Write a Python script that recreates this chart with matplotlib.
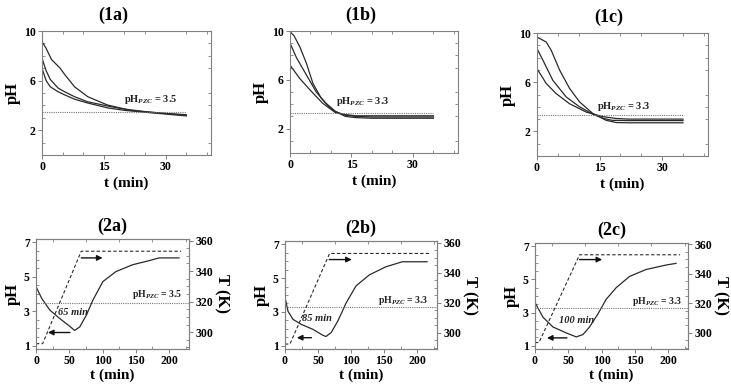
import numpy as np
import matplotlib
matplotlib.use("Agg")
import matplotlib.pyplot as plt
from matplotlib.ticker import FixedLocator, MultipleLocator

plt.rcParams['font.family'] = ['Liberation Serif', 'DejaVu Serif']
plt.rcParams['font.weight'] = 'bold'
plt.rcParams['mathtext.fontset'] = 'custom'
plt.rcParams['mathtext.rm'] = 'Liberation Serif:bold'
plt.rcParams['mathtext.it'] = 'Liberation Serif:italic:bold'
plt.rcParams['mathtext.bf'] = 'Liberation Serif:bold'

# ---- top row: pH vs time at three initial pH values ----
t_1a = [[0, 1, 2.3, 3.5, 4.4, 5.6, 7.9, 11.1, 15.9, 21.5, 26, 30, 35],
        [0, 1, 2, 3.9, 5.5, 7.9, 11, 15.9, 20, 25, 30, 35],
        [0, 1, 2, 3.9, 5.5, 7.9, 11, 15.9, 20, 25, 30, 35]]
ph_1a = [[9.15, 8.6, 7.7, 7.3, 7.0, 6.45, 5.5, 4.7, 4.03, 3.6, 3.45, 3.35, 3.25],
         [7.8, 6.8, 6.1, 5.4, 5.1, 4.7, 4.3, 3.95, 3.7, 3.5, 3.35, 3.2],
         [7.0, 6.0, 5.5, 5.1, 4.85, 4.5, 4.2, 3.8, 3.6, 3.45, 3.3, 3.15]]
pzc_1a = 3.5

t_1b = [[0, 1, 2.4, 4.0, 5.6, 7.6, 9.5, 11.1, 13.5, 16, 20, 35],
        [0, 1.6, 4.0, 6.4, 8.7, 11.1, 13.5, 16, 20, 35],
        [0, 2.4, 4.8, 7.9, 11.1, 13.5, 16, 20, 35]]
ph_1b = [[9.95, 9.6, 8.7, 7.36, 5.7, 4.5, 3.8, 3.4, 3.0, 2.9, 2.85, 2.85],
         [9.0, 7.8, 6.4, 5.0, 4.1, 3.4, 3.1, 3.0, 2.95, 2.95],
         [7.2, 6.1, 5.2, 4.1, 3.3, 3.15, 3.05, 3.05, 3.05]]
pzc_1b = 3.3

t_1c = [[0, 2.2, 3.4, 5.4, 7.8, 10.2, 13.4, 16.6, 19, 22, 35],
        [0, 1.4, 3.8, 7.0, 10.2, 13.4, 16, 18, 22, 35],
        [0, 2.2, 4.6, 7.8, 11.8, 15.8, 19, 22, 35]]
ph_1c = [[9.67, 9.27, 8.6, 7.0, 5.5, 4.4, 3.45, 2.9, 2.72, 2.7, 2.7],
         [8.73, 7.8, 6.15, 4.8, 4.0, 3.4, 3.05, 2.9, 2.88, 2.88],
         [7.1, 5.9, 5.07, 4.25, 3.57, 3.2, 3.05, 3.0, 3.0]]
pzc_1c = 3.3

# ---- bottom row: pH and temperature during heating ----
t_2a = [0, 8.5, 20.9, 35.8, 50.7, 58, 65.7, 75.6, 85.6, 100.5, 120, 145, 170, 185, 215]
ph_2a = [4.43, 3.75, 3.06, 2.57, 2.12, 1.88, 2.08, 2.76, 3.65, 4.72, 5.3, 5.7, 5.94, 6.1, 6.1]
tT_2a = [0, 10, 68, 218]
T_2a = [292.5, 292.5, 353, 353]
pzc_2a = 3.5

t_2b = [0.7, 4.5, 12, 24.5, 42, 57, 62, 70, 80, 92.5, 107.5, 127.5, 152.5, 177.5, 215]
ph_2b = [3.73, 3.04, 2.56, 2.26, 1.97, 1.62, 1.54, 1.78, 2.46, 3.53, 4.54, 5.19, 5.67, 5.97, 5.97]
tT_2b = [0, 7.5, 67.5, 218]
T_2b = [292.3, 292.3, 352.7, 352.7]
pzc_2b = 3.3

t_2c = [0, 12, 27, 47, 62, 72, 82, 94.5, 107, 122, 142, 167, 197, 212]
ph_2c = [3.6, 2.72, 2.13, 1.77, 1.53, 1.67, 2.13, 2.91, 3.8, 4.5, 5.18, 5.6, 5.87, 5.97]
tT_2c = [0, 6, 67, 218]
T_2c = [293.4, 293.4, 353, 353]
pzc_2c = 3.3

W, H = 731, 388
fig = plt.figure(figsize=(W / 100, H / 100), dpi=100)

def box(l, t, r, b):
    return [l / W, 1 - b / H, (r - l) / W, (b - t) / H]

line_c = '#2a2a2a'
spine_c = '#808080'

def style(ax):
    for s in ax.spines.values():
        s.set_color(spine_c)
        s.set_linewidth(0.8)
    ax.tick_params(which='major', direction='out', length=3, width=0.7,
                   color=spine_c, labelsize=8.5, pad=1.5)
    ax.tick_params(which='minor', direction='in', length=2, width=0.6, color=spine_c)
    ax.tick_params(which='minor', top=True, right=True)
    for lb in ax.get_xticklabels() + ax.get_yticklabels():
        lb.set_fontweight('bold')

top = [('(1a)', box(42, 31, 211, 155), t_1a, ph_1a, pzc_1a, (20, 4.3)),
       ('(1b)', box(290, 31, 458, 153), t_1b, ph_1b, pzc_1b, (11.3, 4.0)),
       ('(1c)', box(537, 33, 708, 156), t_1c, ph_1c, pzc_1c, (14.4, 3.8))]

for name, pos, ts, phs, pzc, tpos in top:
    ax = fig.add_axes(pos)
    for t, p in zip(ts, phs):
        ax.plot(t, p, color=line_c, lw=0.9)
    ax.plot([0, 35], [pzc, pzc], color='#777777', lw=0.8, ls=(0, (1, 1)))
    ax.set_xlim(0, 41)
    ax.set_ylim(0, 10)
    ax.yaxis.set_major_locator(FixedLocator([2, 6, 10]))
    ax.yaxis.set_minor_locator(MultipleLocator(1))
    ax.xaxis.set_major_locator(FixedLocator([0, 15, 30]))
    ax.xaxis.set_minor_locator(MultipleLocator(5))
    ax.text(tpos[0], tpos[1], r'pH$_{PZC}$ = %.1f' % pzc, fontsize=7.5,
            fontweight='bold', color='#222222')
    ax.set_ylabel('pH', fontsize=12, fontweight='bold', labelpad=2)
    ax.set_xlabel('t (min)', fontsize=11, fontweight='bold', labelpad=2)
    ax.set_title(name, fontsize=13, fontweight='bold', pad=8, x=0.42)
    style(ax)

bottom = [('(2a)', box(36, 239, 189, 349), t_2a, ph_2a, tT_2a, T_2a, pzc_2a,
           (145, 3.8), '65 min', (56, 2.95), (51, 18, 1.76), (68, 100, 6.1)),
          ('(2b)', box(285, 241, 437, 349), t_2b, ph_2b, tT_2b, T_2b, pzc_2b,
           (141, 3.55), '85 min', (49, 2.6), (40, 18, 1.47), (67, 101, 6.1)),
          ('(2c)', box(535, 243, 688, 349), t_2c, ph_2c, tT_2c, T_2c, pzc_2c,
           (146, 3.5), '100 min', (62, 2.5), (48, 18, 1.47), (67, 101, 6.2))]

for (name, pos, t, ph, tT, T, pzc, tpos, lab, lpos, la, ra) in bottom:
    ax = fig.add_axes(pos)
    ax.plot(t, ph, color=line_c, lw=0.9)
    ax.axhline(pzc, color='#777777', lw=0.8, ls=(0, (1, 1)))
    ax.set_xlim(0, 230)
    ax.set_ylim(0.8, 7.2)
    ax.yaxis.set_major_locator(FixedLocator([1, 3, 5, 7]))
    ax.yaxis.set_minor_locator(MultipleLocator(0.5))
    ax.xaxis.set_major_locator(MultipleLocator(50))
    ax.xaxis.set_minor_locator(MultipleLocator(25))
    ax.text(tpos[0], tpos[1], r'pH$_{PZC}$ = %.1f' % pzc, fontsize=7,
            fontweight='bold', color='#222222')
    ax.text(lpos[0], lpos[1], lab, fontsize=7.5, fontweight='bold',
            fontstyle='italic', ha='center', va='center', color='#222222')
    # arrows pointing to the pH axis (left) and temperature axis (right)
    for x0, x1, y in (la, ra):
        ax.annotate('', xy=(x1, y), xytext=(x0, y),
                    arrowprops=dict(arrowstyle='-|>', color='#111111', lw=1.0,
                                    mutation_scale=8, shrinkA=0, shrinkB=0))
    ax.set_ylabel('pH', fontsize=12, fontweight='bold', labelpad=2)
    ax.set_xlabel('t (min)', fontsize=11, fontweight='bold', labelpad=1)
    ax.set_title(name, fontsize=13, fontweight='bold', pad=6)
    style(ax)
    ax.tick_params(which='minor', right=False)

    ax2 = ax.twinx()
    ax2.plot(tT, T, color=line_c, lw=0.8, ls=(0, (3, 2)))
    ax2.set_ylim(289, 361)
    ax2.yaxis.set_major_locator(FixedLocator([300, 320, 340, 360]))
    ax2.yaxis.set_minor_locator(MultipleLocator(5))
    ax2.set_ylabel('T (K)', fontsize=12, fontweight='bold', rotation=270, labelpad=12)
    style(ax2)
    ax2.tick_params(which='minor', right=True, left=False, top=False)

fig.savefig('out.png', dpi=100)
